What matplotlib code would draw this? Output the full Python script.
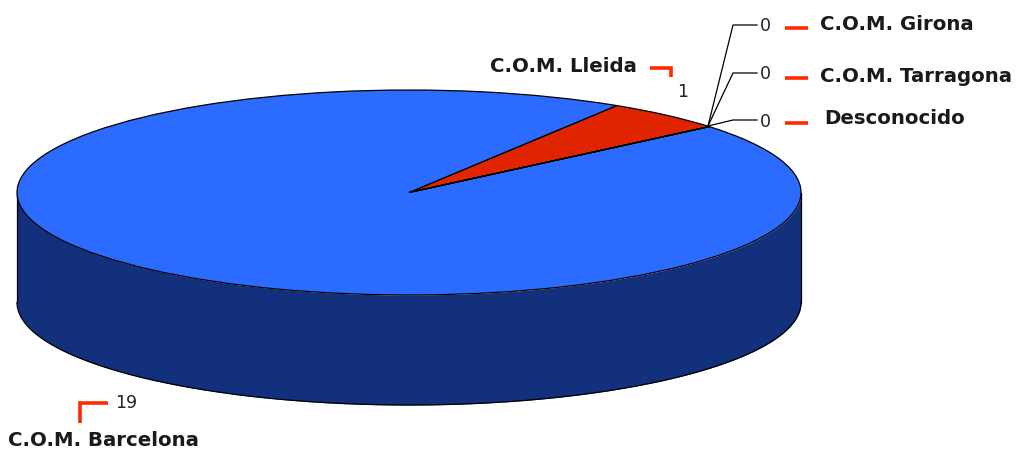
import numpy as np
import matplotlib
matplotlib.use('Agg')
import matplotlib.pyplot as plt

# pie order runs counterclockwise from START_ANGLE
categories = ['C.O.M. Lleida', 'C.O.M. Barcelona', 'C.O.M. Girona', 'C.O.M. Tarragona', 'Desconocido']
values = [1, 19, 0, 0, 0]
top_colors = ['#e02400', '#2c6bff', '#2c6bff', '#2c6bff', '#2c6bff']
SIDE_COLOR = '#12307c'
MARK_RED = '#ff2a00'

W, H = 1019, 453
CX, CY, RX, RY = 409, 192.5, 392, 102.5
DEPTH = 110
START_ANGLE = 40

plt.rcParams['font.family'] = ['DejaVu Sans']

fig = plt.figure(figsize=(W / 100, H / 100), dpi=100)

# chart axes: unit circle squashed into an ellipse by the axis limits
ax = fig.add_axes([0, 0, 1, 1])
ax.pie(values, colors=top_colors, startangle=START_ANGLE, radius=1,
       wedgeprops={'edgecolor': 'black', 'linewidth': 0.9}, normalize=True)
ax.set_aspect('auto')
ax.set_xlim(-CX / RX, (W - CX) / RX)
ax.set_ylim((CY - H) / RY, CY / RY)

theta = np.radians(np.linspace(180, 360, 400))
x = np.cos(theta)
y = np.sin(theta)
d = DEPTH / RY
ax.fill_between(x, y - d, y, color=SIDE_COLOR, zorder=0.5, lw=0)
ax.plot(x, y - d, color='black', lw=0.9, zorder=0.6)
ax.plot([-1, -1], [0, -d], color='black', lw=0.9, zorder=0.6)
ax.plot([1, 1], [0, -d], color='black', lw=0.9, zorder=0.6)

# overlay in pixel coordinates for labels and leaders
ov = fig.add_axes([0, 0, 1, 1])
ov.set_xlim(0, W)
ov.set_ylim(H, 0)
ov.axis('off')

for xs, ys in [([708, 733, 757], [126, 25, 25]),
               ([708, 733, 757], [126, 73, 73]),
               ([708, 733, 757], [126, 120, 120])]:
    ov.plot(xs, ys, color='black', lw=0.9)

for xs, ys in [([785, 808], [28, 28]), ([785, 808], [78, 78]), ([785, 808], [123, 123]),
               ([650, 671, 671], [68, 68, 77]), ([80, 80, 108], [423, 403, 403])]:
    ov.plot(xs, ys, color=MARK_RED, lw=2.6, solid_capstyle='butt', solid_joinstyle='miter')

label_style = {'fontsize': 14.2, 'fontweight': 'bold', 'color': '#1a1a1a', 'va': 'center'}
ov.text(820, 24, categories[2], **label_style)
ov.text(820, 77, categories[3], **label_style)
ov.text(824, 118, categories[4], **label_style)
ov.text(490, 66, categories[0], **label_style)
ov.text(8, 440, categories[1], **label_style)

num_style = {'fontsize': 12.5, 'color': '#222222', 'va': 'center', 'ha': 'center'}
ov.text(765, 26, str(values[2]), **num_style)
ov.text(765, 74, str(values[3]), **num_style)
ov.text(765, 122, str(values[4]), **num_style)
ov.text(683, 92, str(values[0]), **num_style)
ov.text(126, 403, str(values[1]), **num_style)

fig.savefig('out.png', dpi=100)
